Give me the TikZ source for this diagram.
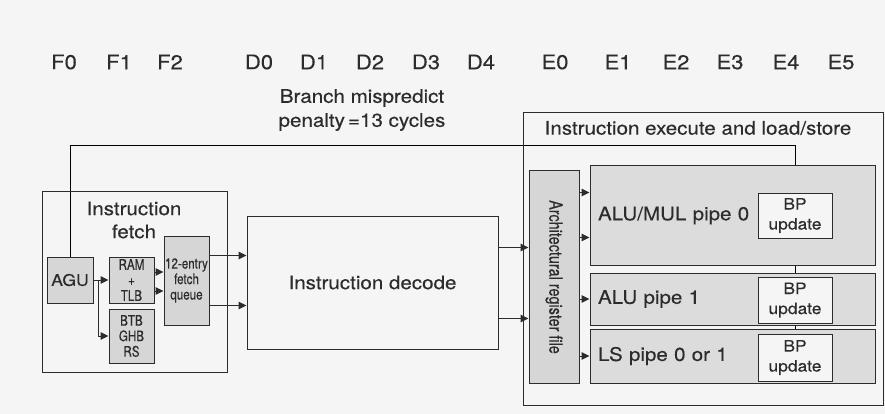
\documentclass[tikz,border=0pt]{standalone}
\usepackage{fontspec}
\setmainfont{TeX Gyre Heros}[FakeStretch=1.1, FakeBold=0.3]
\newfontfamily\condfont{TeX Gyre Heros}[FakeStretch=0.8, FakeBold=0.3]
\usepackage{tikz}
\usetikzlibrary{arrows.meta, backgrounds}

\definecolor{paper}{HTML}{F5F5F5}
\definecolor{unitgray}{HTML}{D6D6D6}
\definecolor{pipegray}{HTML}{DCDCDC}
\definecolor{ink}{HTML}{2C2C2C}

\tikzset{
	blockbox/.style = {draw, inner sep=0pt},
	unitbox/.style = {draw, fill=unitgray, inner sep=0pt, align=center},
	pipebox/.style = {draw, fill=pipegray, inner xsep=8pt, inner ysep=0pt, align=left},
	bpbox/.style = {draw, fill=paper, inner sep=0pt, align=center,
		minimum width=74, font=\fontsize{15.8}{20}\selectfont},
	small/.style = {font=\condfont\fontsize{14.5}{15.5}\selectfont},
	stagelabel/.style = {font=\fontsize{20}{22}\selectfont},
	arr/.style = {-{Triangle[length=8pt, width=7.5pt]}},
}

\begin{document}
\begin{tikzpicture}[x=1pt, y=-1pt, line width=1pt, draw=ink, text=ink,
		font=\fontsize{18.7}{22}\selectfont]
	\useasboundingbox (0,0) rectangle (885,414);

	% pipeline stages
	\foreach \s/\x in {F0/64, F1/119, F2/170, D0/259, D1/314, D2/370, D3/426,
		D4/481, E0/555, E1/618, E2/676, E3/730, E4/786, E5/841}
		\node [stagelabel] (st\s) at (\x,62) {\s};
	\node [align=center, font=\fontsize{18.7}{24}\selectfont] (penalty) at (362,110)
		{Branch mispredict\\penalty\,=13 cycles};

	% instruction fetch
	\node [blockbox, minimum width=185, minimum height=181] (fetch) at (134.5,281.5) {};
	\node [align=center, font=\fontsize{18.7}{23}\selectfont] (fetchlabel) at (134,220) {Instruction\\fetch};
	\node [unitbox, minimum width=46, minimum height=46, font=\fontsize{16}{18}\selectfont] (agu) at (70,280) {AGU};
	\node [unitbox, small, minimum width=45, minimum height=46] (ram) at (131.5,280) {RAM\\+\\TLB};
	\node [unitbox, small, minimum width=45, minimum height=54] (btb) at (131.5,336) {BTB\\GHB\\RS};
	\node [unitbox, small, minimum width=45, minimum height=89] (queue) at (186.5,280.5) {12-entry\\fetch\\queue};
	\coordinate (split) at (98,280);

	% instruction decode
	\node [blockbox, minimum width=251, minimum height=133] (dec) at (372.5,282.5) {Instruction decode};

	% instruction execute and load/store
	\node [blockbox, minimum width=360, minimum height=292] (exec) at (703,259) {};
	\node (execlabel) at (698,128) {Instruction execute and load/store};
	\node [unitbox, rotate=-90, minimum width=212, minimum height=50,
		font=\condfont\fontsize{18}{19}\selectfont] (arch) at (554,277) {Architectural register file};
	\node [pipebox, minimum height=99, text width=269] (pipe0) at (732.5,215.5) {ALU/MUL pipe 0};
	\node [pipebox, minimum height=52, text width=269] (pipe1) at (732.5,299) {ALU pipe 1};
	\node [pipebox, minimum height=54, text width=269] (ls) at (732.5,356) {LS pipe 0 or 1};
	\node [bpbox, minimum height=45] (bp0) at (795,215.5) {BP\\update};
	\node [bpbox, minimum height=46] (bp1) at (795,300) {BP\\update};
	\node [bpbox, minimum height=47] (bp2) at (795,357.5) {BP\\update};
	\coordinate (fb) at (795,145);

	\begin{scope}[on background layer]
		\fill [paper] (0,0) rectangle (885,414);
		\draw (agu.north) |- (fb) -- (ls.north -| fb);
	\end{scope}

	\draw [arr] (agu) -- (ram);
	\draw [arr] (split) |- (btb);
	\foreach \dy in {8,-11}
		\draw [arr] ([yshift=\dy pt]ram.east) -- ([yshift=\dy pt]ram.east -| queue.west);
	\foreach \dy in {25,-25}
		\draw [arr] ([yshift=\dy pt]queue.east) -- ([yshift=\dy pt]queue.east -| dec.west);
	\foreach \dy in {35,-36}
		\draw [arr] ([yshift=\dy pt]dec.east) -- ([yshift=\dy pt]dec.east -| arch.south);
	\foreach \dy in {23,-22}
		\draw [arr] ([yshift=\dy pt]pipe0.west -| arch.north) -- ([yshift=\dy pt]pipe0.west);
	\draw [arr] (arch.north |- pipe1) -- (pipe1);
	\draw [arr] (arch.north |- ls) -- (ls);
\end{tikzpicture}
\end{document}
